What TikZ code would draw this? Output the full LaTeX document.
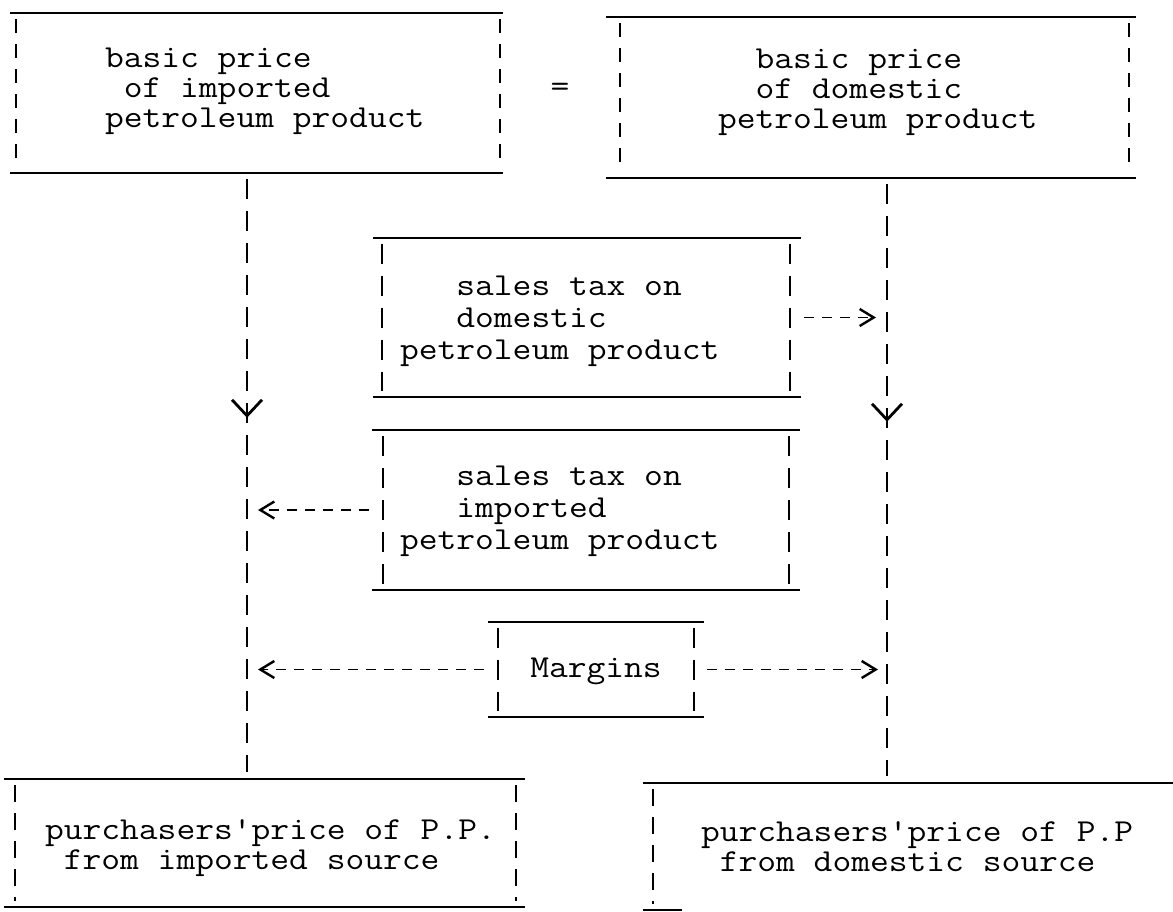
\documentclass[tikz,border=0pt]{standalone}
\usepackage{fontspec}
\usepackage{graphicx}
\usetikzlibrary{arrows.meta,decorations.markings}
\newcommand\twtext[2]{\scalebox{1.14}[1]{\fontsize{32}{#1}\selectfont\ttfamily\begin{tabular}{@{}l@{}}#2\end{tabular}}}
\newcommand\boxedges[4]{%
  \draw[edge] (#1.north west) -- (#1.north east);
  \draw[edge] (#1.south west) -- (#1.south east);
  \draw[#4] ([xshift=#2pt,yshift=-6pt]#1.north west) -- ([xshift=#2pt,yshift=6pt]#1.south west);
  \draw[#4] ([xshift=-#3pt,yshift=-6pt]#1.north east) -- ([xshift=-#3pt,yshift=6pt]#1.south east);
}
\begin{document}
\begin{tikzpicture}[x=1pt,y=1pt,
  boxn/.style={rectangle,draw=none,inner sep=0pt,outer sep=0pt},
  txt/.style={inner sep=0pt,outer sep=0pt,anchor=west},
  edge/.style={line width=2.2pt,black},
  sideA/.style={line width=2pt,dash pattern=on 14pt off 11pt},
  sideB/.style={line width=2pt,dash pattern=on 20pt off 12pt},
  sideC/.style={line width=2pt,dash pattern=on 17pt off 11pt},
  conn/.style={line width=2pt,dash pattern=on 20pt off 12pt},
  harrow/.style={line width=1.8pt,dash pattern=on 10pt off 8pt,-{Straight Barb[length=14pt,width=17pt,line width=2.4pt]}},
  vhead/.style={postaction={decorate},decoration={markings,mark=at position #1 with {\arrow{Straight Barb[length=16pt,width=30pt,line width=2.8pt]}}}}
]
\fill[white] (0,0) rectangle (1173,-911);
\useasboundingbox (0,0) rectangle (1173,-911);

% boxes
\node[boxn,minimum width=493pt,minimum height=160pt] (tl) at (256.5,-93) {};
\node[boxn,minimum width=530pt,minimum height=161pt] (tr) at (871,-97.5) {};
\node[boxn,minimum width=428pt,minimum height=159pt] (st1) at (587,-317.5) {};
\node[boxn,minimum width=428pt,minimum height=160pt] (st2) at (586,-510) {};
\node[boxn,minimum width=216pt,minimum height=95pt] (mg) at (596,-669.5) {};
\node[boxn,minimum width=521pt,minimum height=128pt] (bl) at (264.5,-843) {};
\node[boxn,minimum width=530pt,minimum height=127pt] (br) at (908,-846.5) {};

\boxedges{tl}{6}{3}{sideA}
\boxedges{tr}{14}{7}{sideA}
\boxedges{st1}{9}{11}{sideB}
\boxedges{st2}{11}{11}{sideB}
\boxedges{mg}{10}{10}{sideB}
\boxedges{bl}{11}{9}{sideC}
\draw[edge] (br.north west) -- (br.north east);
\draw[sideC] ([xshift=10pt,yshift=-6pt]br.north west) -- ([xshift=10pt,yshift=6pt]br.south west);
\draw[edge] (br.south west) -- ([xshift=39pt]br.south west);

% texts
\node[txt] (tlt) at (105,-91) {\twtext{30pt}{basic price\\\hphantom{x}of imported\\petroleum product}};
\node[txt] (trt) at (718,-92) {\twtext{30pt}{\hphantom{xx}basic price\\\hphantom{xx}of domestic\\petroleum product}};
\node[txt,anchor=center] (eq) at (560,-90) {\twtext{30pt}{=}};
\node[txt] (st1t) at (400,-321) {\twtext{32pt}{\hphantom{xxx}sales tax on\\\hphantom{xxx}domestic\\petroleum product}};
\node[txt] (st2t) at (400,-511) {\twtext{32pt}{\hphantom{xxx}sales tax on\\\hphantom{xxx}imported\\petroleum product}};
\node[txt,anchor=center] (mgt) at (596,-671) {\twtext{30pt}{Margins}};
\node[txt] (blt) at (45,-848) {\twtext{30pt}{purchasers'price of P.P.\\\hphantom{x}from imported source}};
\node[txt] (brt) at (701,-850) {\twtext{30pt}{purchasers'price of P.P\\\hphantom{x}from domestic source}};

% connectors
\coordinate (lx) at (247,0);
\coordinate (rx) at (887,0);
\draw[conn,vhead=0.404,shorten <=6pt,shorten >=7pt] (tl.south -| lx) -- (bl.north -| lx);
\draw[conn,vhead=0.403,shorten <=6pt,shorten >=7pt] (tr.south -| rx) -- (br.north -| rx);
\draw[harrow,shorten <=3pt,shorten >=11pt] (st1.east) -- (st1.east -| rx);
\draw[harrow,shorten <=3pt,shorten >=11pt] (st2.west) -- (st2.west -| lx);
\draw[harrow,shorten <=4pt,shorten >=11pt] (mg.west) -- (mg.west -| lx);
\draw[harrow,shorten <=3pt,shorten >=9pt] (mg.east) -- (mg.east -| rx);
\end{tikzpicture}
\end{document}
